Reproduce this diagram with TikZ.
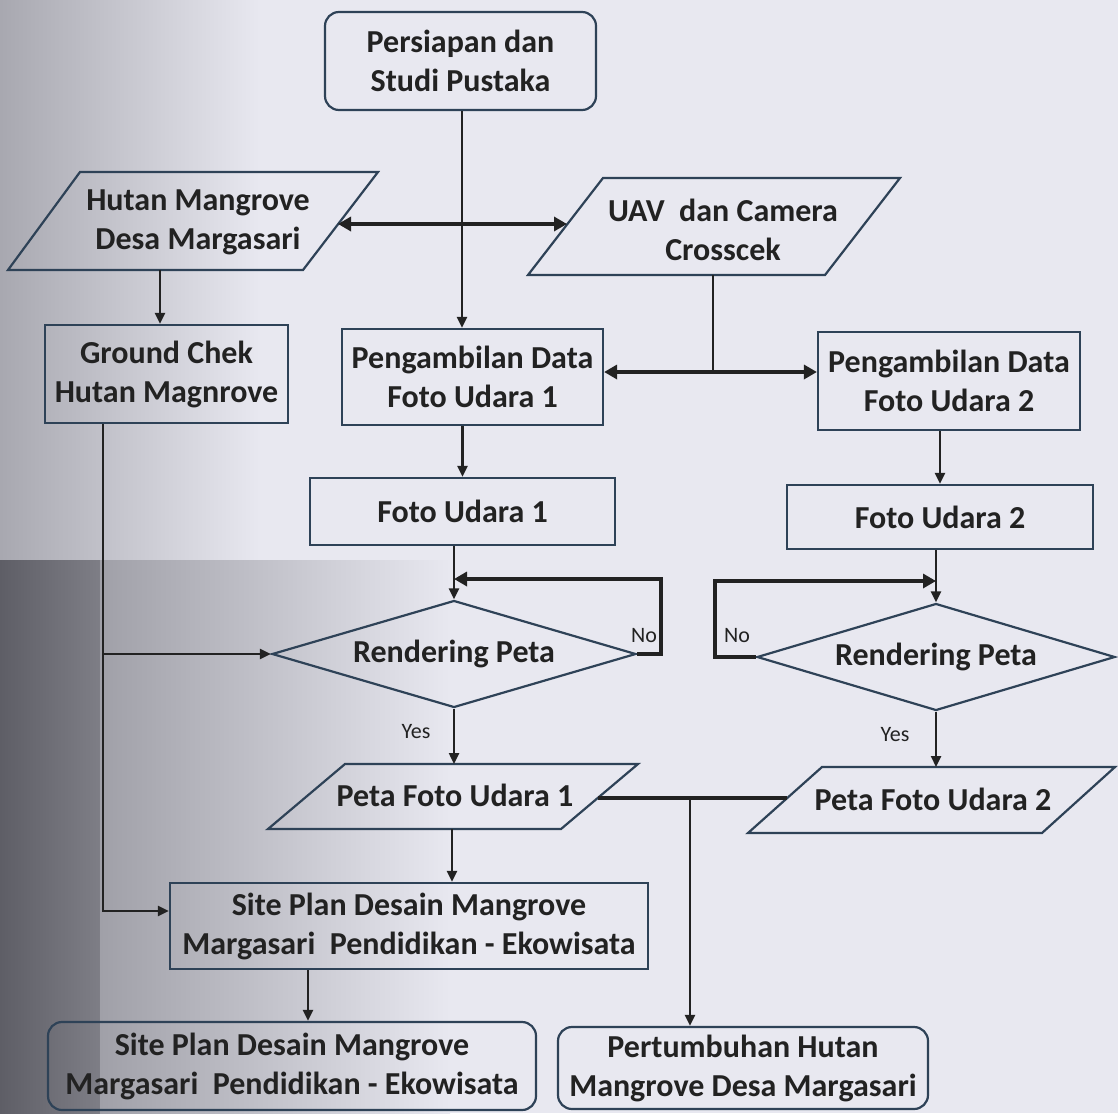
\documentclass[tikz,border=0pt]{standalone}
\usepackage{fontspec}
\setmainfont{Carlito}
\usetikzlibrary{shapes.geometric,arrows.meta,calc}
\definecolor{bg}{HTML}{E8E8F0}
\definecolor{edge}{HTML}{2E4257}
\definecolor{ink}{HTML}{222222}
\definecolor{shadeA}{HTML}{A8A8B0}
\definecolor{shadeB}{HTML}{5E5E66}
\definecolor{shadeC}{HTML}{7E7E86}
\definecolor{shadeD}{HTML}{A0A0A8}
\begin{document}
\begin{tikzpicture}[x=1pt,y=-1pt,
  txt/.style={font=\fontsize{32}{39}\selectfont\bfseries, text=ink, align=center, inner sep=0pt},
  boxnode/.style={draw=edge, line width=2.2pt, txt},
  roundbox/.style={boxnode, rounded corners=14pt},
  decision/.style={diamond, aspect=3.4, draw=edge, line width=2.2pt, txt, inner sep=0pt},
  para/.style={draw=edge, line width=2.2pt, line join=miter},
  lbl/.style={font=\fontsize{22}{26}\selectfont, text=ink, inner sep=0pt},
  conn/.style={draw=ink, line width=2.4pt, -{Triangle[length=11pt,width=10pt]}},
  plain/.style={draw=ink, line width=2.4pt},
  heavy/.style={draw=ink, line width=4.5pt, line join=miter},
  heavytip/.style={heavy, -{Triangle[length=13pt,width=14pt]}},
  heavyboth/.style={heavy, {Triangle[length=13pt,width=14pt]}-{Triangle[length=13pt,width=14pt]}}
]
\useasboundingbox (0,0) rectangle (1118,1113);
% paper and scan shadow
\fill[bg] (0,0) rectangle (1118,1113);
\shade[left color=shadeA, right color=bg] (0,0) rectangle (260,560);
\shade[left color=shadeB, right color=shadeC] (0,560) rectangle (100,1113);
\shade[left color=shadeD, right color=bg] (100,560) rectangle (450,1113);

% ---- nodes ----
\node[roundbox, minimum width=271pt, minimum height=98pt] (persiapan) at (460.5,61) {Persiapan dan\\Studi Pustaka};

% parallelogram: Hutan Mangrove
\draw[para] (80,172) -- (378,172) -- (303,270) -- (8,270) -- cycle;
\node[txt] (hutan) at (198,222) {Hutan Mangrove\\Desa Margasari};
\coordinate (hutanR) at (338,224);
\coordinate (hutanB) at (160,270);

% parallelogram: UAV
\draw[para] (603,178) -- (900,178) -- (825,275) -- (528,275) -- cycle;
\node[txt] (uav) at (723,230) {UAV\ \ dan Camera\\Crosscek};
\coordinate (uavL) at (567,224);
\coordinate (uavB) at (713,275);

\node[boxnode, minimum width=243pt, minimum height=98pt] (ground) at (166.5,374) {Ground Chek\\Hutan Magnrove};
\node[boxnode, minimum width=261pt, minimum height=96pt] (peng1) at (472.5,377) {Pengambilan Data\\Foto Udara 1};
\node[boxnode, minimum width=262pt, minimum height=98pt] (peng2) at (949,381) {Pengambilan Data\\Foto Udara 2};
\node[boxnode, minimum width=305pt, minimum height=67pt] (foto1) at (462.5,511.5) {Foto Udara 1};
\node[boxnode, minimum width=306pt, minimum height=64pt] (foto2) at (940,517) {Foto Udara 2};

\node[decision, minimum width=364pt, minimum height=107pt] (d1) at (454,654) {Rendering Peta};
\node[decision, minimum width=358pt, minimum height=107pt] (d2) at (936,657) {Rendering Peta};

% parallelogram: Peta Foto Udara 1
\draw[para] (345,764) -- (638,764) -- (561,829) -- (268,829) -- cycle;
\node[txt] (peta1) at (455,795) {Peta Foto Udara 1};
\coordinate (p1T) at (454,764);
\coordinate (p1B) at (452,829);
\coordinate (p1R) at (598,798);

% parallelogram: Peta Foto Udara 2
\draw[para] (822,767) -- (1115,767) -- (1042,833) -- (748,833) -- cycle;
\node[txt] (peta2) at (933,799) {Peta Foto Udara 2};
\coordinate (p2T) at (936,767);
\coordinate (p2L) at (787,798);

\node[boxnode, minimum width=478pt, minimum height=86pt] (site) at (409,926) {Site Plan Desain Mangrove\\Margasari\ \ Pendidikan - Ekowisata};
\node[roundbox, minimum width=488pt, minimum height=88pt] (sp2) at (292,1066) {Site Plan Desain Mangrove\\Margasari\ \ Pendidikan - Ekowisata};
\node[roundbox, minimum width=370pt, minimum height=82pt] (pert) at (743,1068) {Pertumbuhan Hutan\\Mangrove Desa Margasari};

% labels
\node[lbl] (no1) at (644,636) {No};
\node[lbl] (no2) at (737,636) {No};
\node[lbl] (yes1) at (416,732) {Yes};
\node[lbl] (yes2) at (895,735) {Yes};

% helper coordinates
\coordinate (mainx) at (462,0);
\coordinate (j1) at (713,372);
\coordinate (loop1) at (661,579);
\coordinate (loop2) at (715,581);
\coordinate (gcx) at (103,0);
\coordinate (pj) at (690,798);
\coordinate (sbx) at (308,0);

% ---- connectors ----
\draw[conn] (mainx |- persiapan.south) -- (mainx |- peng1.north);
\draw[heavyboth] (hutanR) -- (uavL);
\draw[conn] (hutanB) -- (hutanB |- ground.north);
\draw[plain] (uavB) -- (j1);
\draw[heavyboth] (j1 -| peng1.east) -- (j1 -| peng2.west);
\draw[conn] (foto1.north |- peng1.south) -- (foto1.north);
\draw[conn] (foto2.north |- peng2.south) -- (foto2.north);
\draw[conn] (d1.north |- foto1.south) -- (d1.north);
\draw[conn] (d2.north |- foto2.south) -- (d2.north);
\draw[heavytip] (d1.east) -| (loop1) -- (loop1 -| d1.north);
\draw[heavytip] (d2.west) -| (loop2) -- (loop2 -| d2.north);
\draw[conn] (gcx |- ground.south) |- ($(site.west)+(0,-15)$);
\draw[conn] (gcx |- d1.west) -- (d1.west);
\draw[conn] (d1.south) -- (p1T);
\draw[conn] (d2.south) -- (p2T);
\draw[heavy] (p1R) -- (p2L);
\draw[conn] (pj) -- (pj |- pert.north);
\draw[conn] (p1B) -- (p1B |- site.north);
\draw[conn] (sbx |- site.south) -- (sbx |- sp2.north);
\end{tikzpicture}
\end{document}
